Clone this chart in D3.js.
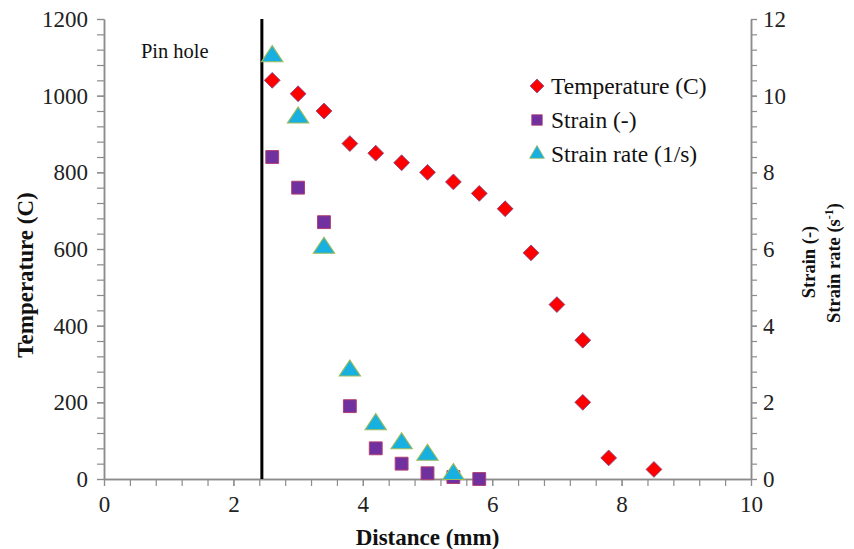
<!DOCTYPE html>
<html>
<head>
<meta charset="utf-8">
<script src="https://cdn.jsdelivr.net/npm/d3@7"></script>
<style>
  body { margin: 0; background: #fff; }
  svg text { font-family: "Liberation Serif", "Times New Roman", serif; }
</style>
</head>
<body>
<div id="chart"></div>
<script>
// data
var tempDistance = [2.6, 3.0, 3.4, 3.8, 4.2, 4.6, 5.0, 5.4, 5.8, 6.2, 6.6, 7.0, 7.4, 7.4, 7.8, 8.5];
var temperature = [1040, 1005, 960, 875, 850, 825, 800, 775, 745, 705, 590, 455, 362, 200, 55, 25];

var strainDistance = [2.6, 3.0, 3.4, 3.8, 4.2, 4.6, 5.0, 5.4, 5.8];
var strain = [8.4, 7.6, 6.7, 1.9, 0.8, 0.4, 0.15, 0.05, 0.0];

var rateDistance = [2.6, 3.0, 3.4, 3.8, 4.2, 4.6, 5.0, 5.4];
var strainRate = [11.0, 9.4, 6.0, 2.8, 1.4, 0.9, 0.6, 0.1];

var pinHole = 2.44;
var xTicks = [0, 2, 4, 6, 8, 10];
var yTicks = [0, 200, 400, 600, 800, 1000, 1200];
var y2Ticks = [0, 2, 4, 6, 8, 10, 12];

var svgWidth = 854;
var svgHeight = 549;
var margin = { top: 19, right: 103, bottom: 70, left: 104 };
var width = svgWidth - margin.left - margin.right;
var height = svgHeight - margin.top - margin.bottom;

var svg = d3.select("#chart")
    .append("svg")
    .attr("width", svgWidth)
    .attr("height", svgHeight);

var chartGroup = svg.append("g")
    .attr("transform", `translate(${margin.left}, ${margin.top})`);

var x = d3.scaleLinear().domain([0, 10]).range([0, width]);
var y = d3.scaleLinear().domain([0, 1200]).range([height, 0]);
var y2 = d3.scaleLinear().domain([0, 12]).range([height, 0]);

var axisColor = "#8c8c8c";

function styleAxis(g) {
  g.select(".domain").attr("stroke", axisColor).attr("stroke-width", 1.5);
  g.selectAll(".tick line").attr("stroke", axisColor).attr("stroke-width", 1.2);
  g.selectAll(".tick text")
    .attr("fill", "#222")
    .style("font-size", "23px")
    .style("font-family", "'Liberation Serif', serif");
}

// minor ticks first, majors on top
chartGroup.append("g")
    .attr("transform", `translate(0, ${height})`)
    .call(d3.axisBottom(x).tickValues(d3.range(0, 10.01, 0.4)).tickFormat("").tickSize(7).tickSizeOuter(0))
    .call(styleAxis);
chartGroup.append("g")
    .attr("transform", `translate(0, ${height})`)
    .call(d3.axisBottom(x).tickValues(xTicks).tickFormat(d3.format("d")).tickSize(7).tickSizeOuter(0).tickPadding(10))
    .call(styleAxis);

chartGroup.append("g")
    .call(d3.axisLeft(y).tickValues(d3.range(0, 1201, 40)).tickFormat("").tickSize(7).tickSizeOuter(0))
    .call(styleAxis);
chartGroup.append("g")
    .call(d3.axisLeft(y).tickValues(yTicks).tickFormat(d3.format("d")).tickSize(7).tickSizeOuter(0).tickPadding(9))
    .call(styleAxis);

chartGroup.append("g")
    .attr("transform", `translate(${width}, 0)`)
    .call(d3.axisRight(y2).tickValues(d3.range(0, 12.01, 0.4)).tickFormat("").tickSize(6).tickSizeOuter(0))
    .call(styleAxis);
chartGroup.append("g")
    .attr("transform", `translate(${width}, 0)`)
    .call(d3.axisRight(y2).tickValues(y2Ticks).tickFormat(d3.format("d")).tickSize(6).tickSizeOuter(0).tickPadding(6))
    .call(styleAxis);

// pin hole line
chartGroup.append("line")
    .attr("x1", x(pinHole)).attr("x2", x(pinHole))
    .attr("y1", 0).attr("y2", height)
    .attr("stroke", "#000")
    .attr("stroke-width", 3);

chartGroup.append("text")
    .attr("x", x(0.57))
    .attr("y", 39)
    .style("font-size", "20.5px")
    .attr("fill", "#111")
    .text("Pin hole");

// markers
var diamond = d3.symbol().type(d3.symbolSquare).size(125);
var square = d3.symbol().type(d3.symbolSquare).size(165);
var triangle = d3.symbol().type(d3.symbolTriangle).size(150);

var tempData = tempDistance.map((d, i) => ({ x: d, y: temperature[i] }));
var strainData = strainDistance.map((d, i) => ({ x: d, y: strain[i] }));
var rateData = rateDistance.map((d, i) => ({ x: d, y: strainRate[i] }));

chartGroup.selectAll(".strain")
    .data(strainData)
    .enter()
    .append("path")
    .attr("class", "strain")
    .attr("d", square)
    .attr("transform", d => `translate(${x(d.x)}, ${y2(d.y)})`)
    .attr("fill", "#7030a0")
    .attr("stroke", "#b04070")
    .attr("stroke-width", 1);

chartGroup.selectAll(".rate")
    .data(rateData)
    .enter()
    .append("path")
    .attr("class", "rate")
    .attr("d", triangle)
    .attr("transform", d => `translate(${x(d.x)}, ${y2(d.y) - 1}) scale(1.15, 1)`)
    .attr("fill", "#17b0e0")
    .attr("stroke", "#9bbb59")
    .attr("stroke-width", 1);

chartGroup.selectAll(".temp")
    .data(tempData)
    .enter()
    .append("path")
    .attr("class", "temp")
    .attr("d", diamond)
    .attr("transform", d => `translate(${x(d.x)}, ${y(d.y)}) rotate(45)`)
    .attr("fill", "#ff0000")
    .attr("stroke", "#7a4a8a")
    .attr("stroke-width", 0.8);

// legend
var legendItems = [
  { label: "Temperature (C)", sym: d3.symbol().type(d3.symbolSquare).size(95), rot: 45, fill: "#ff0000", stroke: "#7a4a8a" },
  { label: "Strain (-)", sym: d3.symbol().type(d3.symbolSquare).size(110), rot: 0, fill: "#7030a0", stroke: "#b04070" },
  { label: "Strain rate (1/s)", sym: d3.symbol().type(d3.symbolTriangle).size(95), rot: 0, fill: "#17b0e0", stroke: "#9bbb59" }
];

var legend = svg.append("g").attr("transform", "translate(537, 86)");
legendItems.forEach(function (item, i) {
  var row = legend.append("g").attr("transform", `translate(0, ${i * 34})`);
  row.append("path")
      .attr("d", item.sym)
      .attr("transform", `rotate(${item.rot})`)
      .attr("fill", item.fill)
      .attr("stroke", item.stroke)
      .attr("stroke-width", 0.8);
  row.append("text")
      .attr("x", 14)
      .attr("y", 8)
      .style("font-size", "23.5px")
      .attr("fill", "#111")
      .text(item.label);
});

// axis titles
svg.append("text")
    .attr("x", margin.left + width / 2)
    .attr("y", 545)
    .attr("text-anchor", "middle")
    .style("font-size", "23px")
    .attr("font-weight", "bold")
    .attr("fill", "#111")
    .text("Distance (mm)");

svg.append("text")
    .attr("transform", "translate(33, 275) rotate(-90)")
    .attr("text-anchor", "middle")
    .style("font-size", "23px")
    .attr("font-weight", "bold")
    .attr("fill", "#111")
    .text("Temperature (C)");

svg.append("text")
    .attr("transform", "translate(815, 262) rotate(-90)")
    .attr("text-anchor", "middle")
    .style("font-size", "18.5px")
    .attr("font-weight", "bold")
    .attr("fill", "#111")
    .text("Strain (-)");

var rateTitle = svg.append("text")
    .attr("transform", "translate(840, 263) rotate(-90)")
    .attr("text-anchor", "middle")
    .style("font-size", "18.5px")
    .attr("font-weight", "bold")
    .attr("fill", "#111");
rateTitle.append("tspan").text("Strain rate (s");
rateTitle.append("tspan").style("font-size", "12px").attr("dy", -7).text("-1");
rateTitle.append("tspan").attr("dy", 7).text(")");
</script>
</body>
</html>
